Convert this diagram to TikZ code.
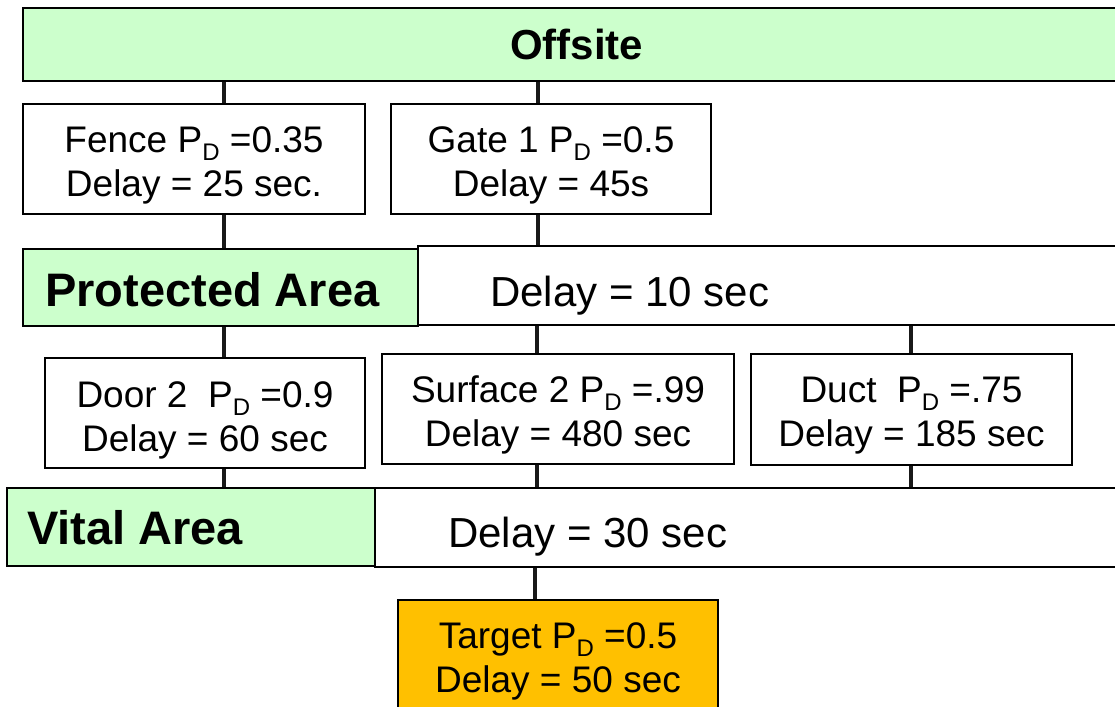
\documentclass[tikz,border=0pt]{standalone}
\usepackage{fontspec}
\setmainfont{Liberation Sans}
\definecolor{areagreen}{HTML}{CCFFCC}
\definecolor{targetorange}{HTML}{FFC000}
% subscript D used in the detection probability P_D
\newcommand\Dsub{\raisebox{-8pt}{\fontsize{24}{24}\selectfont D}}
\begin{document}
\begin{tikzpicture}[x=1pt,y=-1pt,
  boxline/.style={draw=black,line width=2.5pt},
  element/.style={boxline,fill=white,inner sep=0pt},
  elemtext/.style={align=center,inner sep=0pt,font=\fontsize{37}{44}\selectfont},
  area/.style={boxline,fill=areagreen,inner sep=0pt},
  delaybar/.style={boxline,fill=white,inner sep=0pt},
  heading/.style={font=\fontsize{47}{47}\selectfont\bfseries,inner sep=0pt},
  delaytext/.style={font=\fontsize{42}{42}\selectfont,inner sep=0pt},
  link/.style={line width=4.5pt,draw=black!90}]
\useasboundingbox (0,0) rectangle (1115,706);
\clip (0,0) rectangle (1115,706);

% column positions of the connectors
\coordinate (c1) at (224,0);
\coordinate (c2) at (538,0);
\coordinate (c3) at (537,0);
\coordinate (c4) at (911,0);
\coordinate (c5) at (535,0);

% layer bars
\node[area,minimum width=1107pt,minimum height=73pt,
  font=\fontsize{42}{42}\selectfont\bfseries] (off) at (576.5,44.5) {Offsite};
\node[area,minimum width=395pt,minimum height=77pt] (pa) at (220.5,287.5) {};
\node[delaybar,minimum width=712pt,minimum height=79pt] (pad) at (774,285.5) {};
\node[area,minimum width=368pt,minimum height=78pt] (va) at (191,527) {};
\node[delaybar,minimum width=755pt,minimum height=79pt] (vad) at (752.5,527.5) {};

% path elements
\node[element,minimum width=342pt,minimum height=110pt] (fence) at (194,159) {};
\node[element,minimum width=320pt,minimum height=110pt] (gate) at (551,159) {};
\node[element,minimum width=320pt,minimum height=110pt] (door) at (205,413) {};
\node[element,minimum width=352pt,minimum height=110pt] (surf) at (558,409) {};
\node[element,minimum width=321pt,minimum height=111pt] (duct) at (911.5,409.5) {};
\node[element,fill=targetorange,minimum width=320pt,minimum height=115pt] (target) at (558,657.5) {};

\node[elemtext] (fencetext) at ([yshift=-6pt]fence.center)
  {Fence P\Dsub{} =0.35\\Delay = 25 sec.};
\node[elemtext] (gatetext) at ([yshift=-6pt]gate.center)
  {Gate 1 P\Dsub{} =0.5\\Delay = 45s};
\node[elemtext] (doortext) at ([yshift=-7pt]door.center)
  {Door 2\ \ P\Dsub{} =0.9\\Delay = 60 sec};
\node[elemtext] (surftext) at ([yshift=-6pt]surf.center)
  {Surface 2 P\Dsub{} =.99\\Delay = 480 sec};
\node[elemtext] (ducttext) at ([yshift=-6pt]duct.center)
  {Duct\ \ P\Dsub{} =.75\\Delay = 185 sec};
\node[elemtext] (targettext) at ([yshift=-4pt]target.center)
  {Target P\Dsub{} =0.5\\Delay = 50 sec};

% connectors between layers and elements
\draw[link] (off.south -| c1) -- (fence.north -| c1);
\draw[link] (fence.south -| c1) -- (pa.north -| c1);
\draw[link] (pa.south -| c1) -- (door.north -| c1);
\draw[link] (door.south -| c1) -- (va.north -| c1);
\draw[link] (off.south -| c2) -- (gate.north -| c2);
\draw[link] (gate.south -| c2) -- (pad.north -| c2);
\draw[link] (pad.south -| c3) -- (surf.north -| c3);
\draw[link] (surf.south -| c3) -- (vad.north -| c3);
\draw[link] (pad.south -| c4) -- (duct.north -| c4);
\draw[link] (duct.south -| c4) -- (vad.north -| c4);
\draw[link] (vad.south -| c5) -- (target.north -| c5);

% layer labels
\node[heading,anchor=west] (patext) at (45,290) {Protected Area};
\node[delaytext,anchor=west] (padtext) at (490,296) {Delay = 10 sec};
\node[heading,anchor=west] (vatext) at (27,528) {Vital Area};
\node[delaytext,anchor=west] (vadtext) at (448,537) {Delay = 30 sec};
\end{tikzpicture}
\end{document}
